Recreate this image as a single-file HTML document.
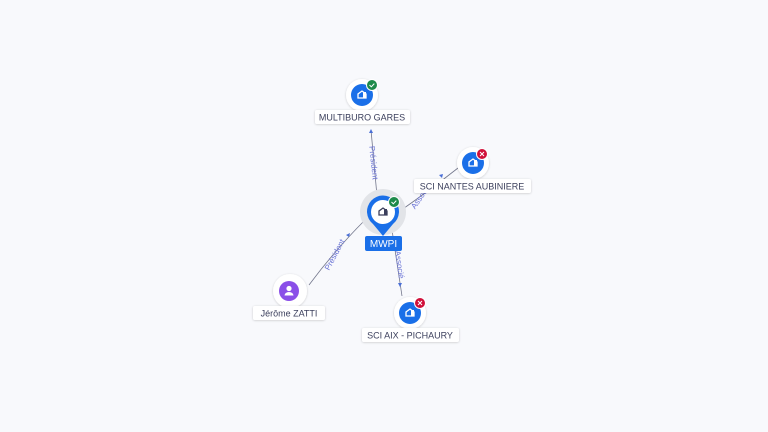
<!DOCTYPE html>
<html><head><meta charset="utf-8"><style>
html,body{margin:0;padding:0;background:#f8f9fc;}
svg{display:block;font-family:"Liberation Sans",sans-serif;}
.lbl{font-size:9px;fill:#3b3f5c;}
.el{font-size:8px;fill:#6b74d6;}
</style></head><body>
<svg width="768" height="432" viewBox="0 0 768 432" xmlns="http://www.w3.org/2000/svg">
<defs>
<filter id="sh" x="-50%" y="-50%" width="200%" height="200%"><feDropShadow dx="0" dy="0.5" stdDeviation="1" flood-color="#000" flood-opacity="0.2"/></filter>
<g id="bld"><path d="M-4,3 L-4,-1 L0,-4 L4,-1 L4,3 Z" fill="none" stroke="#fff" stroke-width="1.3"/><rect x="1" y="-3" width="3" height="6" fill="#fff"/></g>
</defs>
<g stroke="#73778c" stroke-width="0.8" fill="none">
<path d="M377,196 L371,130"/>
<path d="M400,211 Q430,190 458,168"/>
<path d="M309,285 Q335,250 365,220"/>
<path d="M392,230 L402,296"/>
</g>
<g fill="#4a6fd6">
<path d="M371,129 l-2,4 h4z"/>
<path d="M443,174 l-4,1 l3,3z"/>
<path d="M350,233 l-4,2 l3,2z"/>
<path d="M400,287 l-2,-4 h4z"/>
</g>
<text class="el" transform="translate(371,163) rotate(84)" text-anchor="middle">Président</text>
<text class="el" transform="translate(423,198) rotate(-55)" text-anchor="middle">Associé</text>
<text class="el" transform="translate(337,256) rotate(-62)" text-anchor="middle">Président</text>
<text class="el" transform="translate(397,265) rotate(82)" text-anchor="middle">Associé</text>
<circle cx="362" cy="95" r="16" fill="#fff" filter="url(#sh)"/>
<circle cx="362" cy="95" r="11" fill="#1a6fe8"/><use href="#bld" x="362" y="95"/>
<circle cx="372" cy="85" r="5.5" fill="#1d8a4a" stroke="#fff" stroke-width="1"/>
<path d="M369.5,85 l1.8,1.8 l3,-3.2" stroke="#fff" stroke-width="1" fill="none"/>
<rect x="315" y="110" width="95" height="14" rx="2" fill="#fff" filter="url(#sh)"/>
<text class="lbl" x="362" y="120.5" text-anchor="middle">MULTIBURO GARES</text>
<circle cx="473" cy="163" r="16" fill="#fff" filter="url(#sh)"/>
<circle cx="473" cy="163" r="11" fill="#1a6fe8"/><use href="#bld" x="473" y="163"/>
<circle cx="482" cy="154" r="5.5" fill="#d0103a" stroke="#fff" stroke-width="1"/>
<path d="M480,152 l4,4 M484,152 l-4,4" stroke="#fff" stroke-width="1"/>
<rect x="414" y="179" width="117" height="14" rx="2" fill="#fff" filter="url(#sh)"/>
<text class="lbl" x="472" y="189.5" text-anchor="middle">SCI NANTES AUBINIERE</text>
<circle cx="383" cy="212" r="23" fill="#e2e4e8"/>
<path d="M383,236 L373,224 A16,16 0 1 1 393,224 Z" fill="#1a6fe8"/>
<circle cx="383" cy="212" r="12" fill="#fff"/>
<g transform="translate(383,212)"><path d="M-4,3 L-4,-1 L0,-4 L4,-1 L4,3 Z" fill="none" stroke="#3b3f5c" stroke-width="1.3"/><rect x="1" y="-3" width="3" height="6" fill="#3b3f5c"/></g>
<circle cx="394" cy="202" r="5.5" fill="#1d8a4a" stroke="#fff" stroke-width="1"/>
<path d="M391.5,202 l1.8,1.8 l3,-3.2" stroke="#fff" stroke-width="1" fill="none"/>
<rect x="365" y="236" width="37" height="15" rx="2" fill="#1a6fe8"/>
<text x="383.5" y="247" text-anchor="middle" style="font-size:10px;fill:#fff">MWPI</text>
<circle cx="290" cy="291" r="17" fill="#fff" filter="url(#sh)"/>
<circle cx="289" cy="291" r="10" fill="#8a4fe8"/>
<circle cx="289" cy="288.5" r="2.6" fill="#fff"/>
<path d="M284.5,295.5 a4.5,3.5 0 0 1 9,0 z" fill="#fff"/>
<rect x="253" y="306" width="72" height="14" rx="2" fill="#fff" filter="url(#sh)"/>
<text class="lbl" x="289" y="316.5" text-anchor="middle">Jérôme ZATTI</text>
<circle cx="410" cy="313" r="16" fill="#fff" filter="url(#sh)"/>
<circle cx="410" cy="313" r="11" fill="#1a6fe8"/><use href="#bld" x="410" y="313"/>
<circle cx="420" cy="303" r="5.5" fill="#d0103a" stroke="#fff" stroke-width="1"/>
<path d="M418,301 l4,4 M422,301 l-4,4" stroke="#fff" stroke-width="1"/>
<rect x="362" y="328" width="97" height="14" rx="2" fill="#fff" filter="url(#sh)"/>
<text class="lbl" x="410" y="338.5" text-anchor="middle">SCI AIX - PICHAURY</text>
</svg>
</body></html>
